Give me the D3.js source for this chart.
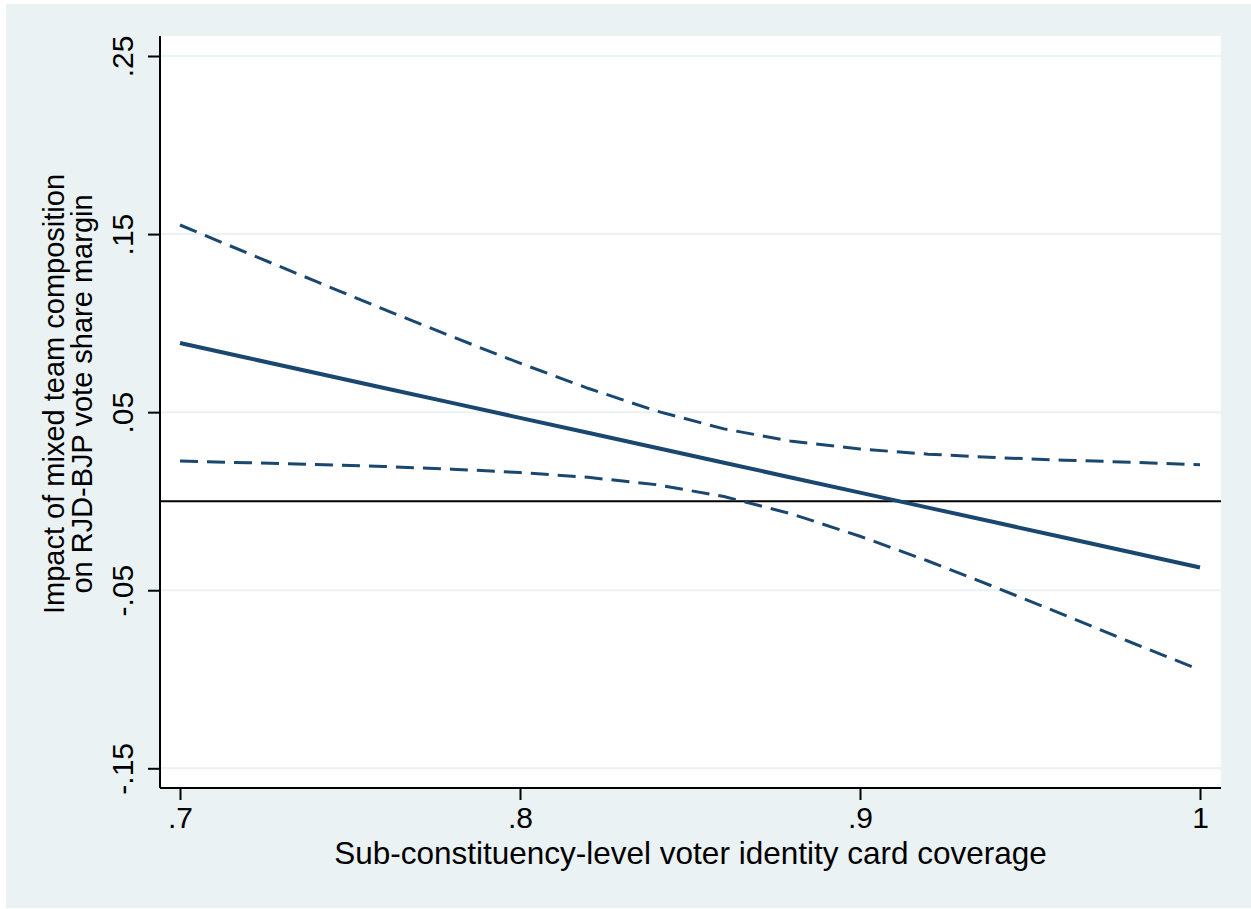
<!DOCTYPE html>
<html>
<head>
    <title>Marginal effect plot</title>
    <script src="https://cdn.jsdelivr.net/npm/d3@7"></script>
    <style>
        body { margin: 0; background: #fff; }
        text { font-family: Arial, "Liberation Sans", sans-serif; fill: #000; }
    </style>
</head>
<body>
    <svg width="1251" height="909" id="mainsvg" style="display:block;"></svg>
    <script>
        // coverage values where margins were evaluated
        const coverage = [0.70, 0.72, 0.74, 0.76, 0.78, 0.80, 0.82, 0.84, 0.86, 0.88, 0.90, 0.92, 0.94, 0.96, 0.98, 1.00];
        const effect = [0.0888, 0.0804, 0.0720, 0.0636, 0.0552, 0.0468, 0.0384, 0.0300, 0.0216, 0.0132, 0.0048, -0.0036, -0.0120, -0.0204, -0.0288, -0.0372];
        const upper = [0.1551, 0.1392, 0.1234, 0.1077, 0.0924, 0.0775, 0.0634, 0.0507, 0.0406, 0.0336, 0.0293, 0.0264, 0.0245, 0.0230, 0.0219, 0.0204];
        const lower = [0.0225, 0.0216, 0.0206, 0.0195, 0.0180, 0.0161, 0.0134, 0.0093, 0.0026, -0.0072, -0.0197, -0.0336, -0.0485, -0.0638, -0.0795, -0.0948];

        const xTicks = [0.7, 0.8, 0.9, 1];
        const yTicks = [-0.15, -0.05, 0.05, 0.15, 0.25];
        const fmt = v => String(v).replace(/^(-?)0\./, '$1.');

        const svg = d3.select('#mainsvg');
        const margin = { top: 36, right: 30, bottom: 121, left: 160 };
        const innerWidth = 1251 - margin.left - margin.right;
        const innerHeight = 909 - margin.top - margin.bottom;
        const lineColor = '#1a476f';

        // outer graph region
        svg.append('rect')
            .attr('x', 6).attr('y', 4)
            .attr('width', 1245).attr('height', 904)
            .attr('fill', '#eaf2f3');

        const g = svg.append('g')
            .attr('transform', `translate(${margin.left}, ${margin.top})`);

        g.append('rect')
            .attr('width', innerWidth).attr('height', innerHeight)
            .attr('fill', '#fff');

        const xScale = d3.scaleLinear()
            .domain([0.7 - 20 / 3400, 1.0 + 21 / 3400])
            .range([0, innerWidth]);

        const yScale = d3.scaleLinear()
            .domain([-0.15, 0.25])
            .range([768.3 - margin.top, 56 - margin.top]);

        // gridlines
        g.selectAll('.grid')
            .data(yTicks)
            .enter()
            .append('line')
                .attr('x1', 0).attr('x2', innerWidth)
                .attr('y1', d => yScale(d)).attr('y2', d => yScale(d))
                .attr('stroke', '#eaf2f3')
                .attr('stroke-width', 2);

        // zero reference line
        g.append('line')
            .attr('x1', 0).attr('x2', innerWidth)
            .attr('y1', yScale(0)).attr('y2', yScale(0))
            .attr('stroke', '#000')
            .attr('stroke-width', 2);

        const line = vals => d3.line()
            .x((d, i) => xScale(coverage[i]))
            .y(d => yScale(d))(vals);

        // confidence bounds
        [upper, lower].forEach(s => {
            g.append('path')
                .attr('d', line(s))
                .attr('fill', 'none')
                .attr('stroke', lineColor)
                .attr('stroke-width', 3)
                .attr('stroke-dasharray', '18,9');
        });

        // point estimate
        g.append('path')
            .attr('d', line(effect))
            .attr('fill', 'none')
            .attr('stroke', lineColor)
            .attr('stroke-width', 4);

        // axes
        const xAxis = d3.axisBottom(xScale)
            .tickValues(xTicks)
            .tickFormat(fmt)
            .tickSize(12)
            .tickSizeOuter(0);

        const yAxis = d3.axisLeft(yScale)
            .tickValues(yTicks)
            .tickFormat(fmt)
            .tickSize(12)
            .tickSizeOuter(0);

        const gx = g.append('g')
            .attr('transform', `translate(0, ${innerHeight})`)
            .call(xAxis);
        gx.select('.domain').attr('d', `M0,0H${innerWidth}`);
        gx.selectAll('line, path').attr('stroke', '#000').attr('stroke-width', 2);
        gx.selectAll('text')
            .attr('font-size', 30)
            .attr('font-family', 'Arial, "Liberation Sans", sans-serif')
            .attr('dy', null)
            .attr('y', 40);

        const gy = g.append('g').call(yAxis);
        gy.select('.domain').attr('d', `M0,${innerHeight}V0`);
        gy.selectAll('line, path').attr('stroke', '#000').attr('stroke-width', 2);
        gy.selectAll('text')
            .attr('font-size', 30)
            .attr('font-family', 'Arial, "Liberation Sans", sans-serif')
            .attr('x', null).attr('dy', null)
            .attr('text-anchor', 'middle')
            .attr('transform', 'translate(-27, 0) rotate(-90)');

        // axis titles
        svg.append('text')
            .attr('x', margin.left + innerWidth / 2)
            .attr('y', 864)
            .attr('text-anchor', 'middle')
            .attr('font-size', 31.5)
            .text('Sub-constituency-level voter identity card coverage');

        const yTitle = ['Impact of mixed team composition', 'on RJD-BJP vote share margin'];
        svg.selectAll('.ytitle')
            .data(yTitle)
            .enter()
            .append('text')
                .attr('transform', (d, i) => `translate(${64 + i * 28}, 394) rotate(-90)`)
                .attr('text-anchor', 'middle')
                .attr('font-size', 29)
                .text(d => d);
    </script>
</body>
</html>
